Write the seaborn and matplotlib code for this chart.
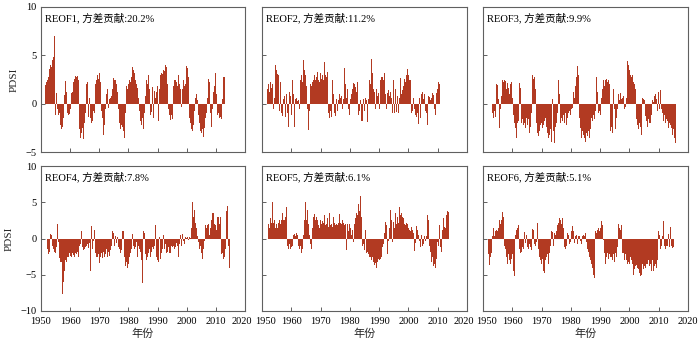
import numpy as np
import pandas as pd
import matplotlib
matplotlib.use("Agg")
import matplotlib.pyplot as plt
import matplotlib.transforms as mtransforms
import seaborn as sns

# ---------------- data (quarterly PDSI of each REOF time series) ----------------
titles = ["REOF1, 方差贡献:20.2%", "REOF2, 方差贡献:11.2%", "REOF3, 方差贡献:9.9%",
          "REOF4, 方差贡献:7.8%", "REOF5, 方差贡献:6.1%", "REOF6, 方差贡献:5.1%"]
starts = [1951.5, 1951.75, 1953.25, 1952.25, 1952.25, 1952.0]

pdsi1 = [1.9, 2.0,
         2.2, 2.5, 2.8, 3.9, 3.6, 4.0, 3.8, 4.2, 4.5, 4.8, 5.1, 7.0, -1.2, 1.1, 1.0, -0.6,
         -1.2, -1.0, -1.8, -2.2, -2.6, -3.1, -2.4, -1.5, 0.9, 1.1, 2.3, 1.2, -1.0, 1.3, -1.2, -1.1,
         -0.6, 0.4, 1.1, 1.2, 0.8, 2.2, 2.6, 2.9, 2.7, 2.8, 2.9, 2.5, -0.5, -2.6, -3.6, -2.8,
         -3.0, -2.5, -3.7, -2.7, -2.0, -1.0, 2.0, 2.3, 2.2, -1.4, -1.6, 0.6, -1.5, -2.0, -1.4, -1.8,
         -0.8, -1.0, 1.2, 2.0, 2.5, 1.8, 3.0, 2.6, 3.2, 3.8, 2.2, -0.8, -1.5, -2.6, -3.2, -2.2,
         -1.0, -0.6, 1.0, 1.5, 0.6, -0.4, 0.5, 0.6, -0.3, 0.8, 1.5, 2.2, 2.7, 2.5, 2.4, 2.2,
         2.0, 1.2, -0.5, -1.2, -2.0, -2.6, -2.2, -1.5, -2.4, -2.8, -3.0, -3.6, -1.0, 1.8, 2.3, 1.5,
         2.0, 2.4, 2.6, 2.2, 2.8, 3.0, 3.8, 3.5, 3.2, 2.6, 2.5, 2.0, 1.6, 1.0, 0.6, -0.8,
         -1.2, -1.8, -2.2, -1.5, -2.0, -2.6, -1.0, 0.8, 3.1, 2.5, 2.0, 1.0, 3.0, 1.5, -1.2, 1.8,
         -0.9, 1.7, -1.5, -1.0, 1.3, 0.6, -0.8, 1.2, 1.8, -1.8, 0.5, 1.5, 3.0, 3.2, 3.4, 3.1,
         3.5, 3.6, 3.4, 4.0, 3.8, 3.2, 2.0, -0.6, -1.2, -1.5, -1.7, -1.2, -1.6, 0.5, 1.8, 2.4,
         3.7, 2.5, 2.2, 1.8, 2.8, 3.0, 2.0, 1.5, 1.2, -0.3, 1.5, 2.0, 2.4, 1.8, 2.0, 2.5,
         3.9, 3.7, 2.8, -0.6, -1.5, -2.0, -2.9, -2.6, -2.8, -2.2, -1.5, -0.8, 0.6, 1.0, -0.5, 0.4,
         -1.2, -1.6, -2.0, -2.8, -3.0, -3.7, -2.6, -3.4, -2.5, -3.0, -1.5, -1.0, -0.5, 0.6, 2.6, 2.2,
         2.2, -1.0, -2.4, -0.6, -0.6, 1.2, 1.8, 1.5, 3.2, 1.0, -1.2, -1.6, -1.0, -1.5, -1.4, -0.8,
         -1.6, 0.5, 2.8, 2.5, 2.8]

pdsi2 = [2.4,
         1.5, 2.0, 1.2, 1.8, 2.2, 1.6, 2.0, -1.7, -0.6, 0.6, 4.0, 3.1, 3.5, 3.1, 2.6, 3.0,
         -0.8, 2.2, -1.3, -1.0, -1.3, 0.5, -2.4, 0.8, -1.4, 1.0, 0.7, -1.0, -2.4, 2.3, 1.2, 0.8,
         -1.2, -0.6, 2.5, 1.0, -2.4, -0.8, 0.5, 0.6, 0.3, -1.0, 0.4, -0.5, 1.5, 2.5, 3.0, 2.2,
         5.4, 4.5, 3.5, 3.0, 2.5, 1.8, -0.5, -1.2, -2.7, -0.8, 2.0, 2.6, 1.8, 2.2, 2.5, 3.0,
         3.0, 2.4, 2.8, 4.0, 3.3, 2.5, 2.7, 2.2, 3.2, 2.6, 2.4, 3.0, 2.5, 4.3, 3.5, 3.0,
         2.8, 3.3, 2.6, -1.0, -1.5, -1.2, -0.8, -1.4, 2.5, 1.5, 1.0, -1.0, -1.3, -0.6, 0.5, -0.8,
         0.4, 1.3, 1.0, 0.6, -0.8, 0.8, -0.5, 0.5, 1.2, 3.7, 2.0, 0.6, -1.0, 1.5, -0.6, -1.8,
         -1.2, 0.5, 1.0, -0.8, 1.5, 2.1, 2.0, 3.4, 1.7, 1.2, 2.2, -0.5, -1.2, -0.8, -1.5, 0.4,
         -1.8, -1.8, -0.4, 0.5, -0.8, 0.6, -1.2, 0.4, -1.9, 0.5, 1.5, 2.5, 2.0, 3.3, 4.6, 3.2,
         1.5, -1.5, 1.2, -0.6, 1.5, -0.6, 0.8, 1.1, -0.5, 1.6, 2.4, 2.8, 3.4, 2.8, 2.5, 3.2,
         2.0, 1.0, -0.5, 1.1, -1.3, 1.4, 0.8, -0.8, 1.2, 0.6, -1.0, 0.8, 2.5, -1.0, 1.5, 1.1,
         -0.9, 0.8, -1.0, -1.5, 0.6, 2.7, -0.6, 1.0, 1.4, 1.8, -0.4, 2.6, 2.2, 3.0, 4.4, 3.6,
         3.0, 2.5, 1.8, 2.5, -1.0, 0.4, -0.8, 0.6, -0.5, 0.8, -1.2, -1.4, -1.0, -1.4, -2.1, 0.6,
         -1.5, 0.8, 1.0, 1.2, -0.6, 0.5, 1.0, -0.8, 0.6, -1.0, -2.2, 0.8, 1.1, 0.7, 0.4, 0.8,
         0.6, 1.1, 0.9, 0.8, -0.6, -1.2, 1.1, 0.8, 1.5, 2.2, 2.0]

pdsi3 = [-1.0, -1.5, -1.2,
         -0.8, -1.4, 2.0, 1.8, 1.9, 0.5, -0.5, -2.5, -0.6, 0.8, 2.8, 2.5, 2.2, 2.4, 1.8, 2.3,
         1.5, 2.1, 1.2, 1.6, 1.0, 1.5, 2.0, 2.2, 0.6, -1.5, -1.2, -2.0, -2.5, -3.0, -3.5, -2.0,
         -1.8, -1.0, 2.1, 1.6, 1.5, -2.0, -1.6, -2.2, 0.8, -2.0, -2.5, -1.5, -1.8, -2.2, -1.6, -2.0,
         -3.0, -2.4, -1.0, 0.5, 3.0, 2.6, 2.8, 2.9, 1.5, -2.0, -3.0, -3.9, -3.3, -2.8, -2.5, -2.2,
         -2.0, -2.5, -3.0, -2.2, -1.8, -1.5, 0.4, -2.4, -3.0, -3.6, -4.1, -3.2, -2.6, -3.5, -4.0, 0.5,
         -2.8, -3.3, -4.1, -2.4, -2.0, -1.6, -1.0, 2.4, 1.0, -1.2, -2.0, -1.5, -2.5, -1.8, -1.2, -2.0,
         -1.5, -1.0, -2.2, -1.5, -1.2, -1.0, -0.8, -1.6, -1.2, -0.6, -0.4, 1.0, 1.2, 0.6, 1.8, 2.5,
         2.8, 3.9, 3.0, 0.5, -1.5, -2.5, -3.0, -3.5, -2.8, -3.2, -4.1, -3.6, -4.0, -3.0, -2.5, -3.3,
         -2.8, -3.5, -2.0, -2.6, -1.5, -2.2, -1.8, -1.2, -1.6, -2.4, -0.8, 2.8, 1.2, -0.6, -1.0, -0.8,
         -1.2, 0.8, 0.6, 1.5, 1.2, 2.5, 1.8, 2.4, 2.9, 2.6, 2.2, 2.5, 1.5, 2.0, -2.8, -2.0,
         -2.4, -3.0, 1.5, 0.8, -0.5, -2.6, -1.5, -0.4, -0.6, 1.0, 0.4, -0.3, 1.1, 0.5, -0.3, 0.6,
         0.8, -0.5, 0.4, -0.3, 0.6, 4.4, 3.8, 4.0, 3.5, 3.0, 3.6, 2.8, 3.0, 2.5, 2.2, 2.0,
         1.5, -1.0, -1.6, -2.2, -2.6, -1.5, -2.0, -2.4, -3.2, -1.0, 0.6, 0.5, 0.6, 0.4, -1.3, -1.8,
         -2.2, -2.4, -1.6, -2.0, -1.5, -2.0, -1.2, -0.8, 0.4, 0.2, 0.8, 1.3, 1.0, 0.5, -0.8, 1.5,
         1.2, -0.6, 1.4, 0.8, -0.6, -1.0, -1.5, -1.8, -1.2, -2.0, -1.4, -1.6, -1.8, -2.5, -1.5, -2.0,
         -2.2, -2.5, -1.8, -3.2, -2.6, -3.0, -3.5, -4.1]

pdsi4 = [-1.5, -2.2, -1.6,
         -1.8, 0.6, 0.5, -1.0, -1.0, -1.5, -2.3, -1.8, -2.0, -1.2, 2.1, 2.0,
         -0.5, -2.7, -3.0, -3.3, -3.3, -4.5, -7.7, -6.0, -4.5, -3.5, -3.0, -3.2,
         -2.6, -2.8, -2.5, -2.0, -2.4, -2.2, -2.6, -2.0, -1.8, -2.3, -2.5, -2.0,
         -2.8, -2.2, -1.8, -2.5, 1.1, -1.1, -0.8, -1.0, 1.0, -1.2, -1.6, -1.3,
         -1.5, -1.2, -1.0, -1.3, -0.8, -1.3, -1.0, -0.6, -4.5, 1.7, -0.8, -1.5,
         -0.4, 1.2, 0.3, -2.0, -2.5, -2.8, -2.6, -2.2, -3.4, -3.0, -2.5, -2.0,
         -2.7, -2.3, -1.8, -2.6, -2.0, -2.2, -1.5, -2.5, -2.0, -1.8, -2.4, -1.6,
         -4.9, -1.0, 1.1, -1.5, 0.8, -1.0, 0.3, -1.5, -0.6, 0.2, -1.2, -0.8,
         -1.5, -2.0, -1.6, -2.2, 1.1, 1.0, -1.0, -2.5, -3.8, -3.2, -3.0, -4.0,
         -3.5, -2.5, -2.8, -2.0, -1.5, -2.5, 0.6, -1.0, -1.5, 0.4, -1.2, -0.5,
         -2.5, 0.6, -1.0, -1.5, -2.5, -1.8, -3.0, -6.2, -3.0, 1.0, 0.8, -2.2,
         -4.5, -3.0, -2.5, -3.5, -2.0, -1.5, -2.5, -2.0, -1.8, -1.2, -1.5, -2.5,
         -1.0, 1.8, 1.6, -2.5, -3.0, -3.3, -2.5, 0.2, -2.8, -2.0, -3.0, -1.5,
         0.5, -2.0, -1.5, -0.8, -2.0, 0.7, -1.8, -1.2, -2.0, -3.4, -2.0, -1.0,
         -1.2, 0.8, -1.0, -1.5, 0.3, -1.2, -0.6, -1.0, -1.5, -2.6, -0.8, 0.5,
         4.3, -1.0, 0.6, -1.5, -0.4, -0.8, 0.2, -0.3, 0.1, 0.2, -0.2, 0.1,
         0.2, 0.1, 2.0, 1.5, 5.0, 3.0, 2.5, 4.0, 2.2, 1.5, -2.8, 0.3,
         -0.5, 0.2, -1.5, -1.0, -2.0, -1.2, -2.8, -1.5, -0.3, 2.0, 1.8, 1.5,
         0.5, 1.8, 2.0, 0.5, -0.2, 1.5, 2.5, 3.5, 5.0, 3.5, 2.0, 1.5,
         1.8, 1.2, 3.0, 2.5, 2.9, 2.0, 3.0, -2.8, -2.2, -2.0, -2.8, -3.8,
         -2.5, -1.5, 5.0, 3.8, 4.5, -1.0, -5.3, -4.0]

pdsi5 = [2.0, 1.5, 1.8,
         2.8, 2.2, 5.0, 2.5, 2.2, 2.5, 1.5, -1.0, 2.0, 1.5, 4.5, 2.2,
         2.6, 2.0, 2.8, 2.5, 3.5, 2.5, 3.0, 2.6, 3.0, 4.3, 3.9, -1.0,
         -1.5, -1.2, -0.8, -1.5, -1.2, -1.8, -1.0, 0.5, 0.6, -0.8, 0.4, 0.8,
         0.5, -0.6, -1.0, -1.5, -1.2, -1.0, -2.0, -1.5, -2.5, 0.5, 2.5, 5.0,
         3.5, 2.5, 4.0, 3.0, 2.0, 0.5, -0.8, -0.5, -1.5, 1.5, 3.0, 2.8,
         3.4, 2.5, 3.0, 2.2, 2.6, 1.8, 2.2, 1.5, 2.5, 2.0, 1.8, 2.4,
         2.2, 3.2, 2.4, 1.8, 2.0, 2.8, 2.2, 1.6, 3.5, 2.5, 1.8, 2.0,
         1.6, 2.4, 3.0, 2.2, 1.8, 2.4, 2.0, 1.8, 2.2, 2.6, 3.4, 2.2,
         1.8, 2.0, 2.6, 2.2, 3.7, 1.8, 2.0, -1.6, 1.5, 2.0, 1.0, 0.5,
         2.0, 1.5, 0.5, 1.2, 1.2, -0.5, 2.0, 3.5, 2.8, 3.5, 3.2, 4.0,
         4.7, 3.8, 4.2, 5.8, 3.0, -1.0, -1.4, -0.8, -1.6, 1.2, -1.5, -2.0,
         -1.8, -2.2, -2.0, -2.5, -2.5, -2.8, -3.0, -2.6, -3.2, -3.0, -3.6, -3.4,
         -4.0, -3.5, -3.2, -2.8, -3.0, -2.5, -2.8, -2.5, -2.0, -1.2, -0.8, 0.8,
         -1.0, 2.3, 1.8, -2.2, 0.5, -0.3, 1.5, 1.0, 3.9, 2.5, -0.5, -0.6,
         2.3, 1.5, 3.5, 2.6, 2.0, 3.0, 2.2, 2.8, 4.3, 3.2, -1.5, 3.5,
         3.0, 2.8, 3.2, 2.0, 1.8, 2.2, 1.8, 2.0, 1.5, 1.2, -1.0, 1.0,
         1.6, -1.0, 1.2, 0.8, -1.7, 0.5, -0.6, 1.7, 1.2, 0.8, 0.5, -0.4,
         -1.2, -0.5, 0.5, -1.0, -0.5, -0.8, 0.3, -0.4, -0.6, 0.3, 3.3, 2.5,
         -0.3, -1.0, -1.8, -2.5, -3.2, -2.6, -3.8, -3.0, -3.5, -4.1, -2.8, -1.5,
         -0.5, -1.0, 1.8, -2.0, -1.2, -1.8, 0.5, 1.2, 2.8, 1.6, 2.0, 1.5,
         3.2, 3.8, 3.5, 3.6]

pdsi6 = [-2.2, -3.7, -2.5, -3.5,
         -2.0, 0.3, 1.5, 1.6, 0.3, 1.0, 1.2, 1.5, 1.0, 1.5, 2.8, 2.5,
         2.0, 2.5, 3.5, 3.6, 3.0, -1.0, -2.0, -1.5, -2.5, -3.5, -3.0, -2.2,
         -3.0, -2.5, -3.5, -2.8, -2.2, -3.0, -4.5, -5.2, 0.5, 1.0, 1.2, 1.5,
         1.8, 1.6, -1.5, -2.0, -2.5, -1.8, -1.2, -1.5, 0.6, 0.9, -0.6, 0.5,
         1.0, -1.2, -1.5, -1.8, -0.8, -1.2, -1.6, -0.6, 1.3, 1.2, -0.8, 1.0,
         -1.0, -0.5, 2.1, -0.6, -1.5, -2.5, -2.2, -3.0, -3.5, -2.8, -3.2, -4.5,
         -4.7, -3.0, -2.0, -2.5, -2.2, -3.5, -2.8, -2.0, -1.0, 0.6, 1.0, 0.9,
         -1.0, 1.0, 0.8, 0.5, 1.0, 1.2, 1.8, 2.2, 2.8, 2.4, 2.6, 2.0,
         3.2, 2.8, 1.5, -1.2, -2.5, -1.5, -1.0, 0.8, 1.4, 0.5, -0.8, 0.6,
         -0.5, 1.0, 1.7, -1.0, 1.0, -0.6, 0.4, -0.3, 0.5, -0.8, 0.3, -0.5,
         0.4, -0.3, 0.5, -0.8, 0.3, 0.5, -0.6, 0.4, 0.8, -0.5, 0.3, -1.5,
         -1.8, -2.5, -2.0, -3.0, -3.5, -2.8, -4.0, -5.0, -5.5, 0.5, 1.0, 0.8,
         1.2, 0.6, 1.4, 1.0, 1.5, 2.0, 2.4, 1.8, -0.3, -0.2, -2.0, -3.5,
         -3.5, -2.5, -2.0, -2.8, -3.0, -2.2, -2.6, -1.8, -2.5, -3.0, -2.2, -2.8,
         -3.2, -2.0, -2.5, -1.6, -1.2, 2.0, 1.5, 1.9, 1.2, 1.9, -1.5, -2.0,
         -2.0, -3.0, -2.5, -2.2, -3.0, -3.5, -2.8, -3.2, -3.5, -2.6, -3.8, -3.0,
         -3.5, -4.0, -5.0, -4.2, -3.8, -4.5, -3.6, -4.0, -4.2, -3.5, -4.8, -5.2,
         -5.0, -4.0, -3.5, -4.2, -3.0, -3.8, -4.0, -3.5, -3.2, -3.5, -3.0, -3.8,
         -4.0, -3.5, -4.5, -3.8, -3.0, -4.5, -3.8, -3.0, -3.5, -4.0, -3.0, -2.0,
         1.0, 0.5, -1.5, 0.3, -1.0, 0.3, -1.5, 2.4, -1.0, -1.5, 0.6, -1.0,
         -1.0, 0.6, -1.8, -1.2, 1.6, -1.0, -0.8, -1.3, -1.2]

series = [pdsi1, pdsi2, pdsi3, pdsi4, pdsi5, pdsi6]

RED = "#B23A22"
SPINE = "#606060"

sns.set_style("ticks")
plt.rcParams["font.family"] = ["Liberation Serif", "Noto Sans CJK SC"]
plt.rcParams["axes.unicode_minus"] = True

fig = plt.figure(figsize=(7.0, 3.44), dpi=100)

W, H = 700.0, 344.0
lefts = [41, 262, 483]
widths = [204, 205, 205]
tops = [7, 166]
height = 145

for k in range(6):
    r, c = divmod(k, 3)
    rect = [lefts[c] / W, 1 - (tops[r] + height) / H, widths[c] / W, height / H]
    ax = fig.add_axes(rect)
    vals = series[k]
    df = pd.DataFrame({"year": starts[k] + 0.25 * np.arange(len(vals)), "pdsi": vals})
    sns.barplot(data=df, x="year", y="pdsi", native_scale=True, width=1.0,
                color=RED, saturation=1, errorbar=None, linewidth=0, ax=ax)
    ax.set_xlim(1950, 2020)
    ax.set_xticks(range(1950, 2021, 10))
    if r == 0:
        ax.set_ylim(-5, 10)
        ax.set_yticks([-5, 0, 5, 10])
    else:
        ax.set_ylim(-10, 10)
        ax.set_yticks([-10, -5, 0, 5, 10])
    ax.tick_params(direction="in", length=3, width=0.7, color=SPINE,
                   labelsize=7.5, labelcolor="black")
    ax.tick_params(axis="x", pad=4)
    ax.tick_params(axis="y", pad=3)
    for s in ax.spines.values():
        s.set_color(SPINE)
        s.set_linewidth(0.8)
    if r == 0:
        ax.tick_params(labelbottom=False)
        ax.set_xlabel("")
    else:
        ax.set_xlabel("年份", fontsize=8, labelpad=2)
        labels = ax.get_xticklabels()
        # nudge the end labels apart so neighbouring panels' 2020/1950 do not collide
        if c > 0:
            off = mtransforms.ScaledTranslation(2.5 / 72, 0, fig.dpi_scale_trans)
            labels[0].set_transform(labels[0].get_transform() + off)
        if c < 2:
            off = mtransforms.ScaledTranslation(-2.5 / 72, 0, fig.dpi_scale_trans)
            labels[-1].set_transform(labels[-1].get_transform() + off)
    if c == 0:
        ax.set_ylabel("PDSI", fontsize=8, labelpad=5)
    else:
        ax.tick_params(labelleft=False)
        ax.set_ylabel("")
    ax.text(0.02, 0.965, titles[k], transform=ax.transAxes, ha="left", va="top",
            fontsize=7.6, color="black")

fig.savefig("out.png", dpi=100)
